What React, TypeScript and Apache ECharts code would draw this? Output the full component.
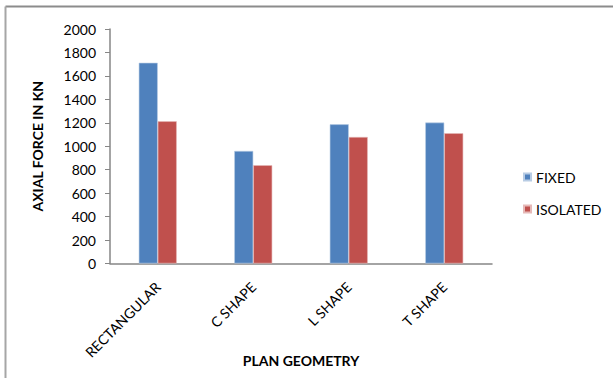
import React, { useEffect, useRef } from "react";
import * as echarts from "echarts";

const categories = ["RECTANGULAR", "C SHAPE", "L SHAPE", "T SHAPE"];
const fixedValues = [1712, 960, 1187, 1202];
const isolatedValues = [1213, 838, 1079, 1111];
const seriesNames = ["FIXED", "ISOLATED"];

const FONT = "Lato, 'Liberation Sans', sans-serif";

export default function App() {
  const ref = useRef<HTMLDivElement>(null);
  useEffect(() => {
    if (!ref.current) return;
    const chart = echarts.init(ref.current, undefined, { renderer: "svg" });
    chart.setOption({
      animation: false,
      backgroundColor: "#ffffff",
      textStyle: { fontFamily: FONT },
      grid: {
        left: 110,
        right: 121,
        top: 29,
        bottom: 114.5,
        containLabel: false,
        outerBoundsMode: "none",
      },
      legend: {
        orient: "vertical",
        left: 518,
        top: 165,
        itemWidth: 7,
        itemHeight: 7,
        itemGap: 18,
        icon: "rect",
        textStyle: { fontFamily: FONT, fontSize: 14, color: "#000" },
        data: seriesNames,
      },
      xAxis: {
        type: "category",
        data: categories,
        name: "PLAN GEOMETRY",
        nameLocation: "middle",
        nameGap: 90,
        nameMoveOverlap: false,
        nameTextStyle: { fontFamily: FONT, fontSize: 14, fontWeight: "bold", color: "#000" },
        axisLine: { lineStyle: { color: "#868686", width: 1.5 } },
        axisTick: { show: false },
        axisLabel: { rotate: 45, margin: 21, fontSize: 14, color: "#000", fontFamily: FONT },
      },
      yAxis: {
        type: "value",
        min: 0,
        max: 2000,
        interval: 200,
        name: "AXIAL FORCE IN KN",
        nameLocation: "middle",
        nameGap: 66,
        nameMoveOverlap: false,
        nameTextStyle: { fontFamily: FONT, fontSize: 14, fontWeight: "bold", color: "#000" },
        axisLine: { show: true, lineStyle: { color: "#868686", width: 1.5 } },
        axisTick: { show: true, length: 5, lineStyle: { color: "#868686" } },
        axisLabel: {
          margin: 14,
          fontSize: 14,
          color: "#000",
          fontFamily: FONT,
          formatter: (v: number) => String(v),
        },
        splitLine: { show: false },
      },
      series: [
        {
          name: seriesNames[0],
          type: "bar",
          data: fixedValues,
          barWidth: 19,
          barGap: "0%",
          itemStyle: { color: "#4F81BD", borderColor: "#b8cce4", borderWidth: 0.6 },
        },
        {
          name: seriesNames[1],
          type: "bar",
          data: isolatedValues,
          barWidth: 19,
          barGap: "0%",
          itemStyle: { color: "#C0504D", borderColor: "#e6b9b8", borderWidth: 0.6 },
        },
      ],
      graphic: [
        { type: "line", shape: { x1: 5.5, y1: 6.5, x2: 613, y2: 6.5 }, style: { stroke: "#8c8c8c", lineWidth: 2 } },
        { type: "line", shape: { x1: 5.5, y1: 6.5, x2: 5.5, y2: 378 }, style: { stroke: "#a6a6a6", lineWidth: 2 } },
      ],
    });
    return () => chart.dispose();
  }, []);
  return (
    <div
      ref={ref}
      style={{ position: "fixed", left: 0, top: 0, width: 613, height: 378 }}
    />
  );
}
